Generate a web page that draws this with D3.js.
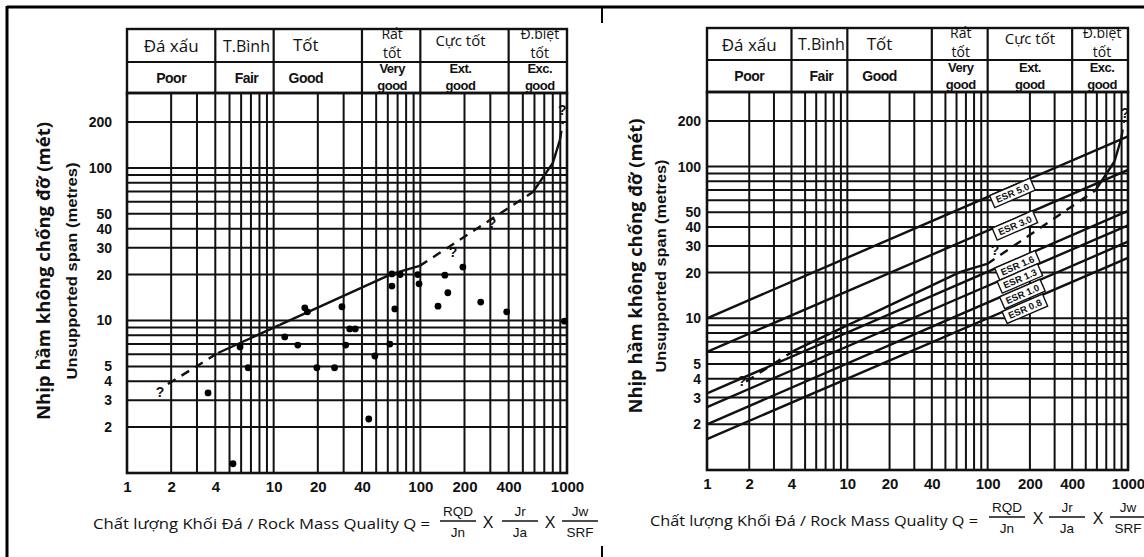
<!DOCTYPE html>
<html>
<head>
<meta charset="utf-8">
<script src="https://cdn.jsdelivr.net/npm/d3@7"></script>
<style>
  body { margin: 0; background: #fff; }
  text { fill: #111; }
</style>
</head>
<body>
<svg width="1144" height="557"></svg>
<script>
// tick labels
const qTicks = [1, 2, 4, 10, 20, 40, 100, 200, 400, 1000];
const spanTicks = [2, 3, 4, 5, 10, 20, 30, 40, 50, 100, 200];

// rock mass classes along Q
const classEdges = [1, 4, 10, 40, 100, 400, 1000];
const classVi = [["Đá xấu"], ["T.Bình"], ["Tốt"], ["Rất", "tốt"], ["Cực tốt"], ["Đ.biệt", "tốt"]];
const classEn = [["Poor"], ["Fair"], ["Good"], ["Very", "good"], ["Ext.", "good"], ["Exc.", "good"]];

// case records, left chart (Q, unsupported span m)
const caseQ    = [16.3, 17, 29.2, 64, 64, 67, 73, 96, 98, 147, 195, 154, 132, 258, 388, 960,
                  11.9, 14.6, 31, 33, 36, 49, 62, 19.7, 26, 3.57, 5.28, 44.5, 5.9, 6.7];
const caseSpan = [12.1, 11.4, 12.3, 20.2, 16.8, 11.9, 20, 20, 17.4, 19.8, 22.4, 15.2, 12.4, 13.2, 11.4, 9.9,
                  7.8, 6.9, 6.9, 8.8, 8.8, 5.85, 7.0, 4.9, 4.9, 3.35, 1.15, 2.26, 6.7, 4.9];

// boundary of unsupported spans (points; style of each piece between them)
const boundQ    = [1.9, 4.17, 11, 64, 99, 586, 801, 895, 937];
const boundSpan = [3.83, 6.12, 9.35, 20.2, 22.8, 69.6, 108, 153, 200];
const boundDash = [true, false, false, false, true, false, false, true];

// question marks
const askLeftQ = [1.68, 167, 308, 930];
const askLeftSpan = [3.4, 28, 43.6, 240];
const askRightQ = [1.78, 113, 954];
const askRightSpan = [3.86, 28, 225];

// ESR lines, right chart: span at Q = 1 and at Q = 1000
const esrNames = ["ESR 5.0", "ESR 3.0", "ESR 1.6", "ESR 1.3", "ESR 1.0", "ESR 0.8"];
const esrSpanAt1 = [10, 6, 3.2, 2.6, 2.0, 1.6];
const esrSpanAt1000 = [158, 95, 51, 41, 32, 25];

const svg = d3.select("svg");
const ink = "#111";

// outer frame of the scan
svg.append("line").attr("x1", 7).attr("x2", 1144).attr("y1", 7).attr("y2", 7)
  .attr("stroke", "#000").attr("stroke-width", 3);
svg.append("line").attr("x1", 7).attr("x2", 7).attr("y1", 6).attr("y2", 557)
  .attr("stroke", "#000").attr("stroke-width", 3);
svg.append("line").attr("x1", 602).attr("x2", 602).attr("y1", 7).attr("y2", 23)
  .attr("stroke", "#000").attr("stroke-width", 2);
svg.append("line").attr("x1", 602).attr("x2", 602).attr("y1", 546).attr("y2", 557)
  .attr("stroke", "#000").attr("stroke-width", 2);

function drawPanel(p) {
  const x = d3.scaleLog().domain([1, 1000]).range([p.left, p.right]);
  const y = d3.scaleLog().domain([1, 310]).range([p.bottom, p.top]);
  const g = svg.append("g");

  // grid
  g.append("g").selectAll("line").data(x.ticks()).join("line")
    .attr("x1", d => x(d)).attr("x2", d => x(d))
    .attr("y1", p.top).attr("y2", p.bottom)
    .attr("stroke", ink).attr("stroke-width", 2);
  g.append("g").selectAll("line").data(y.ticks().filter(d => d > 1 && d < 300)).join("line")
    .attr("x1", p.left).attr("x2", p.right)
    .attr("y1", d => y(d)).attr("y2", d => y(d))
    .attr("stroke", ink).attr("stroke-width", 2);
  g.append("rect")
    .attr("x", p.left).attr("y", p.top)
    .attr("width", p.right - p.left).attr("height", p.bottom - p.top)
    .attr("fill", "none").attr("stroke", ink).attr("stroke-width", 2.6);

  // class header
  const head = g.append("g");
  head.append("rect")
    .attr("x", p.left).attr("y", p.headTop)
    .attr("width", p.right - p.left).attr("height", p.top - p.headTop)
    .attr("fill", "none").attr("stroke", ink).attr("stroke-width", 2.4);
  head.append("line")
    .attr("x1", p.left).attr("x2", p.right).attr("y1", p.headMid).attr("y2", p.headMid)
    .attr("stroke", ink).attr("stroke-width", 2);
  head.selectAll("line.sep").data(classEdges.slice(1, -1)).join("line")
    .attr("class", "sep")
    .attr("x1", d => x(d)).attr("x2", d => x(d))
    .attr("y1", p.headTop).attr("y2", p.top)
    .attr("stroke", ink).attr("stroke-width", 2.2);

  const mid = i => (x(classEdges[i]) + x(classEdges[i + 1])) / 2 + (p.nudge[i] || 0);
  const r1 = (p.headTop + p.headMid) / 2, r2 = (p.headMid + p.top) / 2;
  const viSize = [17, 16, 17, 14, 15, 14];
  const viLift = [0, 0, -1, 0, -6, 0];
  classVi.forEach((lines, i) => {
    lines.forEach((t, k) => {
      const yy = lines.length === 1 ? r1 + viLift[i] : r1 + (k === 0 ? -12 : 7);
      head.append("text")
        .attr("x", mid(i)).attr("y", yy)
        .attr("text-anchor", "middle").attr("dominant-baseline", "central")
        .attr("font-family", "Open Sans, sans-serif")
        .attr("font-size", viSize[i])
        .text(t);
    });
  });
  classEn.forEach((lines, i) => {
    lines.forEach((t, k) => {
      const yy = lines.length === 1 ? r2 : r2 + (k === 0 ? -9 : 8);
      head.append("text")
        .attr("x", mid(i)).attr("y", yy)
        .attr("text-anchor", "middle").attr("dominant-baseline", "central")
        .attr("font-family", "Liberation Sans, Arial, sans-serif")
        .attr("font-weight", "bold").attr("font-size", lines.length === 1 ? 14 : 13)
        .attr("letter-spacing", -0.5)
        .text(t);
    });
  });

  // axes
  const ax = g.append("g")
    .attr("transform", "translate(0," + p.tickY + ")")
    .call(d3.axisBottom(x).tickValues(qTicks).tickFormat(d3.format("d")).tickSize(0).tickPadding(0));
  ax.select(".domain").remove();
  ax.selectAll("text")
    .attr("dy", "0.35em").attr("y", 0)
    .attr("font-family", "Liberation Sans, Arial, sans-serif")
    .attr("font-weight", "bold").attr("font-size", 15).attr("fill", ink);

  const ay = g.append("g")
    .attr("transform", "translate(" + p.tickX + ",0)")
    .call(d3.axisLeft(y).tickValues(spanTicks).tickFormat(d3.format("d")).tickSize(0).tickPadding(0));
  ay.select(".domain").remove();
  ay.selectAll("text")
    .attr("x", 0)
    .attr("font-family", "Liberation Sans, Arial, sans-serif")
    .attr("font-weight", "bold").attr("font-size", 14).attr("fill", ink);

  // axis titles
  g.append("text")
    .attr("transform", "translate(" + p.titleX + "," + p.titleMid + ") rotate(-90)")
    .attr("text-anchor", "middle").attr("dominant-baseline", "central")
    .attr("font-family", "Open Sans, sans-serif").attr("font-weight", "bold")
    .attr("font-size", 17).attr("textLength", p.titleLen).attr("lengthAdjust", "spacingAndGlyphs")
    .text("Nhịp hầm không chống đỡ (mét)");
  g.append("text")
    .attr("transform", "translate(" + p.subX + "," + p.titleMid + ") rotate(-90)")
    .attr("text-anchor", "middle").attr("dominant-baseline", "central")
    .attr("font-family", "Liberation Sans, Arial, sans-serif").attr("font-weight", "bold")
    .attr("font-size", 14).attr("textLength", p.subLen).attr("lengthAdjust", "spacingAndGlyphs")
    .text("Unsupported span (metres)");

  g.append("text")
    .attr("x", p.qTitleX).attr("y", p.qTitleY)
    .attr("dominant-baseline", "central")
    .attr("font-family", "Open Sans, sans-serif").attr("font-size", 15)
    .attr("textLength", p.qTitleLen).attr("lengthAdjust", "spacingAndGlyphs")
    .text("Chất lượng Khối Đá / Rock Mass Quality Q =");

  const fr = [["RQD", "Jn"], ["Jr", "Ja"], ["Jw", "SRF"]];
  fr.forEach((f, i) => {
    const cx = p.fracX[i];
    const fg = g.append("g").attr("font-family", "Liberation Sans, Arial, sans-serif").attr("font-size", 13.5);
    fg.append("text").attr("x", cx).attr("y", p.fracY - 10).attr("text-anchor", "middle")
      .attr("dominant-baseline", "central").text(f[0]);
    fg.append("text").attr("x", cx).attr("y", p.fracY + 11).attr("text-anchor", "middle")
      .attr("dominant-baseline", "central").text(f[1]);
    fg.append("line").attr("x1", cx - 18).attr("x2", cx + 18)
      .attr("y1", p.fracY).attr("y2", p.fracY).attr("stroke", ink).attr("stroke-width", 1.3);
    if (i < 2) {
      fg.append("text").attr("x", p.timesX[i]).attr("y", p.fracY + 1).attr("text-anchor", "middle")
        .attr("dominant-baseline", "central").attr("font-size", 16).text("X");
    }
  });

  // boundary line
  const line = d3.line().x(d => x(d[0])).y(d => y(d[1]));
  boundDash.forEach((dash, i) => {
    g.append("path")
      .attr("d", line([[boundQ[i], boundSpan[i]], [boundQ[i + 1], boundSpan[i + 1]]]))
      .attr("fill", "none").attr("stroke", ink).attr("stroke-width", 2.4)
      .attr("stroke-dasharray", dash ? "9,7" : null);
  });

  return { g, x, y };
}

const left = drawPanel({
  left: 127, right: 567, top: 93, bottom: 473, headTop: 29, headMid: 62,
  nudge: [0, 2, -12, 1, -4, 2],
  tickY: 487, tickX: 112, titleX: 43, subX: 72, titleMid: 271, titleLen: 298, subLen: 217,
  qTitleX: 93, qTitleY: 523, qTitleLen: 337,
  fracX: [458, 520, 580], timesX: [488, 550], fracY: 521
});

left.g.append("g").selectAll("circle").data(caseQ).join("circle")
  .attr("cx", d => left.x(d)).attr("cy", (d, i) => left.y(caseSpan[i]))
  .attr("r", 3.4).attr("fill", "#000");

const right = drawPanel({
  left: 707, right: 1128, top: 92, bottom: 470, headTop: 28, headMid: 60,
  nudge: [0, 2, -10, 1, 0, 2],
  tickY: 484, tickX: 701, titleX: 635, subX: 661, titleMid: 266, titleLen: 295, subLen: 213,
  qTitleX: 650, qTitleY: 520, qTitleLen: 328,
  fracX: [1007, 1067, 1128], timesX: [1038, 1098], fracY: 517
});

// ESR lines
esrNames.forEach((name, i) => {
  right.g.append("line")
    .attr("x1", right.x(1)).attr("y1", right.y(esrSpanAt1[i]))
    .attr("x2", right.x(1000)).attr("y2", right.y(esrSpanAt1000[i]))
    .attr("stroke", ink).attr("stroke-width", 2.4);
});
esrNames.forEach((name, i) => {
  const x1 = right.x(1), y1 = right.y(esrSpanAt1[i]);
  const x2 = right.x(1000), y2 = right.y(esrSpanAt1000[i]);
  const t = (1010 + i * 2.5 - x1) / (x2 - x1);
  const cx = x1 + t * (x2 - x1), cy = y1 + t * (y2 - y1);
  const ang = Math.atan2(y2 - y1, x2 - x1) * 180 / Math.PI;
  const lg = right.g.append("g").attr("transform", "translate(" + cx + "," + cy + ") rotate(" + ang + ") translate(0,6)");
  lg.append("rect").attr("x", -22).attr("y", -6.5).attr("width", 44).attr("height", 13)
    .attr("fill", "#fff").attr("stroke", ink).attr("stroke-width", 1.4);
  lg.append("text").attr("text-anchor", "middle").attr("dominant-baseline", "central")
    .attr("font-family", "Liberation Sans, Arial, sans-serif").attr("font-weight", "bold")
    .attr("font-size", 9.5).text(name);
});

// question marks
[[left, askLeftQ, askLeftSpan], [right, askRightQ, askRightSpan]].forEach(([pn, qs, ss]) => {
  pn.g.append("g").selectAll("text").data(qs).join("text")
    .attr("x", d => pn.x(d)).attr("y", (d, i) => pn.y(ss[i]))
    .attr("text-anchor", "middle").attr("dominant-baseline", "central")
    .attr("font-family", "Liberation Sans, Arial, sans-serif").attr("font-weight", "bold")
    .attr("font-size", 14).text("?");
});
</script>
</body>
</html>
